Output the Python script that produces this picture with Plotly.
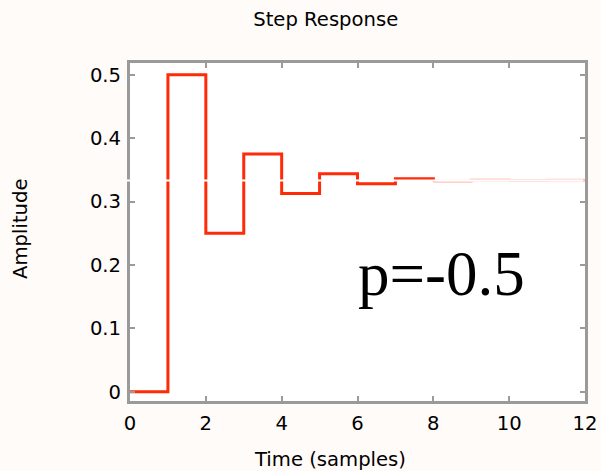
import plotly.graph_objects as go

# Step response of a first-order discrete system with pole p = -0.5
samples = [0, 1, 2, 3, 4, 5, 6, 7, 8, 9, 10, 11, 12]
amplitude = [0, 0.5, 0.25, 0.375, 0.3125, 0.34375, 0.328125, 0.3359375,
             0.33203125, 0.333984375, 0.3330078125, 0.33349609375, 0.333251953125]
steady_state = 0.3333
split_at = 8  # samples after this are drawn faded

x_ticks = [0, 2, 4, 6, 8, 10, 12]
y_ticks = [0, 0.1, 0.2, 0.3, 0.4, 0.5]
y_tick_text = ["0", "0.1", "0.2", "0.3", "0.4", "0.5"]

RED = "#FF2A08"
FADED = "rgba(255,90,60,0.35)"
AXIS_GRAY = "#9A9A9A"
FONT = "DejaVu Sans"
FS = 19.6
label_font = dict(family=FONT, size=FS, color="black")

fig = go.Figure()

head = samples.index(split_at) + 1
fig.add_trace(go.Scatter(
    x=samples[:head], y=amplitude[:head], mode="lines",
    line=dict(color=RED, width=3, shape="hv"), showlegend=False,
))
fig.add_trace(go.Scatter(
    x=samples[head - 1:], y=amplitude[head - 1:], mode="lines",
    line=dict(color=FADED, width=3, shape="hv"), showlegend=False,
))

# thin white marker along the final value
fig.add_shape(
    type="line", xref="paper", yref="y", layer="above",
    x0=-0.008, x1=0.996, y0=steady_state, y1=steady_state,
    line=dict(color="white", width=2),
)

fig.add_annotation(
    text="p=-0.5", xref="paper", yref="paper", x=0.684, y=0.376,
    xanchor="center", yanchor="middle", showarrow=False,
    font=dict(family="Liberation Serif", size=63, color="black"),
)

# axis titles
fig.add_annotation(
    text="Time (samples)", xref="paper", yref="paper", x=0.4396, y=-0.1716,
    xanchor="center", yanchor="middle", showarrow=False, font=label_font,
)
fig.add_annotation(
    text="Amplitude", xref="paper", yref="paper", x=-0.2396, y=0.509,
    xanchor="center", yanchor="middle", textangle=-90, showarrow=False,
    font=label_font,
)

axis_common = dict(
    showline=True, linecolor=AXIS_GRAY, linewidth=3, mirror="ticks",
    ticks="inside", ticklen=5, tickwidth=1.5, tickcolor=AXIS_GRAY,
    showgrid=False, zeroline=False, automargin=False,
    ticklabelstandoff=2, tickfont=label_font,
)

fig.update_xaxes(
    range=[0, 12], tickvals=x_ticks, ticktext=[str(v) for v in x_ticks],
    **axis_common,
)
fig.update_yaxes(
    range=[-0.0147, 0.5185], tickvals=y_ticks, ticktext=y_tick_text,
    **axis_common,
)

fig.update_layout(
    width=601, height=471,
    margin=dict(l=130, r=16, t=63, b=70),
    paper_bgcolor="#FFFBF8", plot_bgcolor="white",
    title=dict(text="Step Response", x=0.542, xanchor="center",
               y=1 - 19 / 471, yanchor="middle", font=label_font),
)

fig.write_html("out.html")
